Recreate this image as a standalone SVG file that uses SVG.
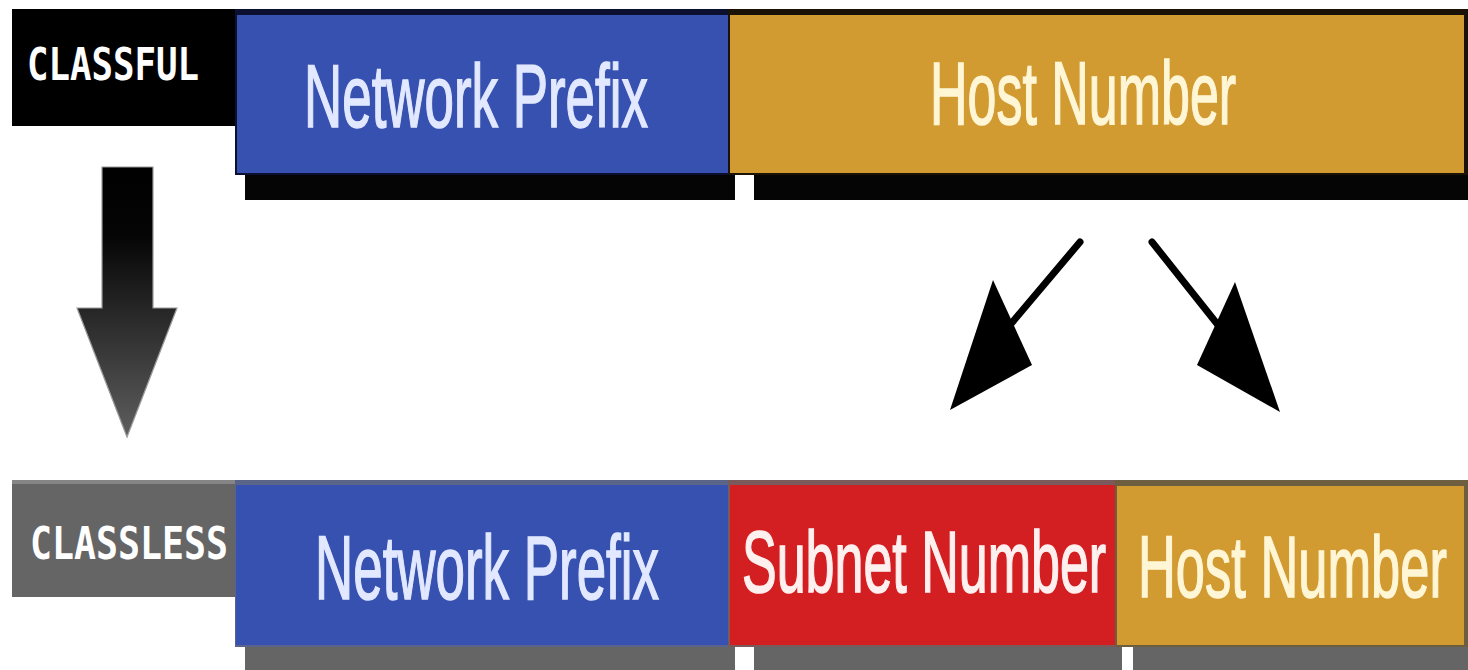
<svg xmlns="http://www.w3.org/2000/svg" width="1468" height="670" viewBox="0 0 1468 670">
  <defs>
    <linearGradient id="downGrad" x1="0" y1="167" x2="0" y2="437" gradientUnits="userSpaceOnUse">
      <stop offset="0" stop-color="#000"/>
      <stop offset="0.25" stop-color="#050505"/>
      <stop offset="1" stop-color="#5e5e5e"/>
    </linearGradient>
    <style>
      .lbl { font-family: "DejaVu Sans Mono", "Liberation Mono", monospace; font-weight: bold; font-size: 44px; fill: #ffffff; }
      .big { font-family: "Liberation Sans", Arial, sans-serif; font-size: 89px; stroke-width: 1.6px; }
      .blueTxt { fill: #e2e8ff; stroke: #e2e8ff; }
      .goldTxt { fill: #fff6d6; stroke: #fff6d6; }
      .redTxt { fill: #fff0f0; stroke: #fff0f0; }
      .blue { fill: #3651b0; }
      .gold { fill: #d29b32; }
      .red { fill: #d41f22; }
      .gray { fill: #656565; }
      .dark { fill: #050505; }
    </style>
  </defs>
  <rect width="1468" height="670" fill="#ffffff"/>

  <!-- CLASSFUL row -->
  <g id="classful-label">
    <rect x="12" y="9" width="224" height="117" fill="#000"/>
    <text class="lbl" x="27" y="80" textLength="172" lengthAdjust="spacingAndGlyphs">CLASSFUL</text>
  </g>
  <g id="classful-network">
    <rect x="235" y="9" width="495" height="166" fill="#0c1030"/>
    <rect class="blue" x="237" y="15" width="491" height="158"/>
    <rect class="dark" x="245" y="175" width="490" height="25"/>
    <text class="big blueTxt" transform="translate(304,127) scale(0.5945,1)">Network Prefix</text>
  </g>
  <g id="classful-host">
    <rect x="728" y="9" width="740" height="166" fill="#1a1206"/>
    <rect class="gold" x="730" y="15" width="734" height="158"/>
    <rect class="dark" x="754" y="175" width="714" height="25"/>
    <rect x="737" y="178" width="17" height="22" fill="#ffffff"/>
    <text class="big goldTxt" transform="translate(930,124) scale(0.584,1)">Host Number</text>
  </g>

  <!-- CLASSLESS row -->
  <g id="classless-label">
    <rect x="12" y="480" width="224" height="117" fill="#858585"/>
    <rect class="gray" x="12" y="484" width="224" height="113"/>
    <text class="lbl" x="30" y="559" textLength="198" lengthAdjust="spacingAndGlyphs">CLASSLESS</text>
  </g>
  <g id="classless-network">
    <rect x="235" y="480" width="495" height="167" fill="#5a6488"/>
    <rect class="blue" x="236" y="485" width="492" height="160"/>
    <rect class="gray" x="245" y="647" width="490" height="23"/>
    <text class="big blueTxt" transform="translate(315,599) scale(0.588,1)" style="font-size:90px">Network Prefix</text>
  </g>
  <g id="classless-subnet">
    <rect x="728" y="480" width="388" height="167" fill="#7a5a5a"/>
    <rect class="red" x="730" y="485" width="385" height="160"/>
    <rect class="gray" x="754" y="647" width="368" height="23"/>
    <rect x="737" y="650" width="17" height="20" fill="#ffffff"/>
    <text class="big redTxt" transform="translate(742,592) scale(0.591,1)" style="font-size:88px">Subnet Number</text>
  </g>
  <g id="classless-host">
    <rect x="1115" y="480" width="353" height="167" fill="#6e5e40"/>
    <rect class="gold" x="1117" y="486" width="347" height="159"/>
    <rect class="gray" x="1133" y="647" width="335" height="23"/>
    <rect x="1122" y="650" width="11" height="20" fill="#ffffff"/>
    <text class="big goldTxt" transform="translate(1138,597) scale(0.596,1)" style="font-size:88px">Host Number</text>
  </g>

  <!-- Connectors -->
  <g id="connectors">
    <path d="M102,167 H153 V308 H177 L127,437 L77,308 H102 Z" fill="url(#downGrad)" stroke="#9a9a9a" stroke-width="1.2"/>
    <line x1="1080" y1="242" x2="1010" y2="325" stroke="#000" stroke-width="7" stroke-linecap="round"/>
    <polygon points="950,410 993,280 1032,365" fill="#000"/>
    <line x1="1152" y1="242" x2="1218" y2="325" stroke="#000" stroke-width="7" stroke-linecap="round"/>
    <polygon points="1280,412 1235,282 1197,365" fill="#000"/>
  </g>
</svg>
